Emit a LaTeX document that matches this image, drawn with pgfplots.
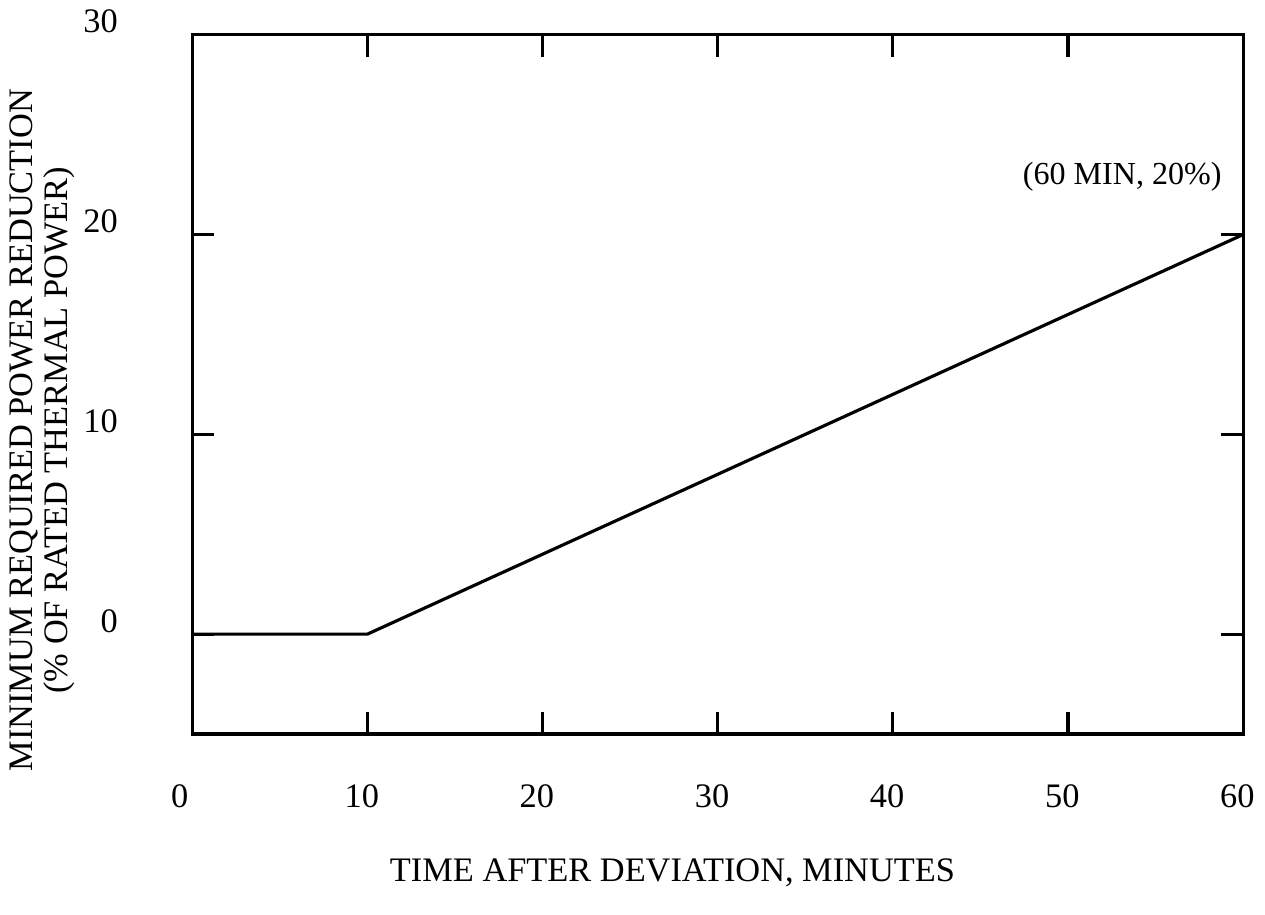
\documentclass[border=0pt]{standalone}
\usepackage{fontspec}
\setmainfont{Liberation Serif}
\usepackage{pgfplots}
\pgfplotsset{compat=1.18}
\begin{document}
\begin{tikzpicture}
\begin{axis}[
  scale only axis,
  width=366.96pt, height=244.17pt,
  xmin=0, xmax=60, ymin=-5, ymax=30,
  xtick={0,10,20,30,40,50,60},
  xticklabels={{\kern-4.8pt 0},10,20,30,40,50,60},
  ytick={0,10,20,30},
  yticklabels={0,10,20,30},
  tick align=inside,
  major tick length=7.6pt,
  axis line style={line width=1.1pt},
  every tick/.style={black, line width=1.1pt},
  /pgf/number format/assume math mode=true,
  every tick label/.append style={font=\fontsize{12}{14}\selectfont},
  xticklabel style={yshift=-14pt, xshift=-2pt},
  yticklabel style={xshift=-22.5pt, yshift=4.6pt},
  label style={font=\fontsize{12}{12.2}\selectfont},
  xlabel={TIME AFTER DEVIATION, MINUTES},
  xlabel style={at={(axis description cs:0.4569,-0.198)}, anchor=center},
  ylabel={MINIMUM REQUIRED POWER REDUCTION\\(\% OF RATED THERMAL POWER)},
  ylabel style={at={(axis description cs:-0.1431,0.4345)}, anchor=center, align=center},
  clip=false,
]
\addplot[black, line width=1.1pt] coordinates {(0,0) (10,0) (60,20)};
\node[anchor=east, inner sep=0pt, font=\fontsize{11.2}{13}\selectfont] at (axis cs:58.8,22.9) {(60 MIN, 20\%)};
\end{axis}
\path (current axis.south west) ++(-65.39pt,-62.96pt) coordinate (bbA);
\path (current axis.north east) ++(7.65pt,12.17pt) coordinate (bbB);
\path (bbA) rectangle (bbB);
\end{tikzpicture}
\end{document}
